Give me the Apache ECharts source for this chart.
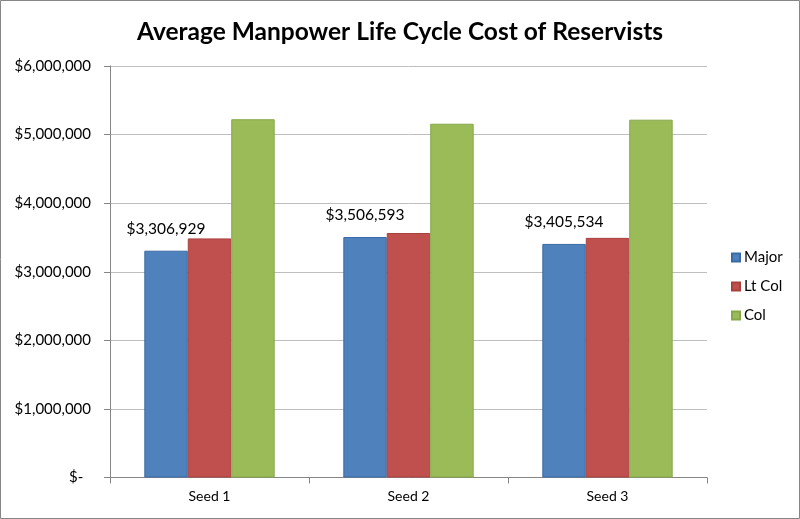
<!DOCTYPE html>
<html><head><meta charset="utf-8">
<script src="https://cdn.jsdelivr.net/npm/echarts@6/dist/echarts.min.js"></script>
<style>html,body{margin:0;padding:0;background:#fff}#c{width:800px;height:519px}</style>
</head><body><div id="c"></div>
<script>
var titleText = 'Average Manpower Life Cycle Cost of Reservists';
var categories = ['Seed 1', 'Seed 2', 'Seed 3'];
var seriesNames = ['Major', 'Lt Col', 'Col'];
var majorValues = [3306929, 3506593, 3405534];
var ltColValues = [3486000, 3565000, 3494000];
var colValues = [5224000, 5158000, 5217000];
var yTicks = [0, 1000000, 2000000, 3000000, 4000000, 5000000, 6000000];

var FONT = 'Lato';
function money(v){
  if (v === 0) return '$-  ';
  return '$' + Math.round(v).toString().replace(/\B(?=(\d{3})+(?!\d))/g, ',');
}
var colors = ['#4F81BD', '#C0504D', '#9BBB59'];
var borders = ['#3A6BA5', '#A9403D', '#86A84A'];
var vals = [majorValues, ltColValues, colValues];

var chart = echarts.init(document.getElementById('c'), null, {renderer:'canvas'});
chart.setOption({
  animation: false,
  backgroundColor: '#fff',
  textStyle: {fontFamily: FONT},
  title: {text: titleText, left: 'center', top: 15,
    textStyle: {fontFamily: FONT, fontSize: 24.5, fontWeight: 'bold', color: '#000'}},
  legend: {orient: 'vertical', left: 726, top: 245, itemGap: 14, itemWidth: 8, itemHeight: 8,
    icon: 'rect', data: seriesNames,
    textStyle: {fontFamily: FONT, fontSize: 15, color: '#000', padding: [0,0,0,-1]}},
  graphic: [{type: 'rect', shape: {x: 0.5, y: 0.5, width: 799, height: 518},
    style: {fill: 'none', stroke: '#868686', lineWidth: 1}, silent: true}],
  grid: {left: 110, right: 93, top: 66, bottom: 41.5},
  xAxis: {type: 'category', data: categories,
    axisLine: {lineStyle: {color: '#868686'}},
    axisTick: {show: true, length: 6, lineStyle: {color: '#868686'}},
    axisLabel: {fontFamily: FONT, fontSize: 14, color: '#000', margin: 12}},
  yAxis: {type: 'value', min: yTicks[0], max: yTicks[yTicks.length-1], interval: yTicks[1]-yTicks[0],
    axisLine: {show: true, lineStyle: {color: '#868686'}},
    axisTick: {show: true, length: 6, lineStyle: {color: '#868686'}},
    splitLine: {lineStyle: {color: '#BEBEBE'}},
    axisLabel: {fontFamily: FONT, fontSize: 15, color: '#000', margin: 19, formatter: money}},
  series: seriesNames.map(function(n, i){
    return {name: n, type: 'bar', data: vals[i], barGap: '0%', barCategoryGap: '34.5%',
      itemStyle: {color: colors[i], borderColor: borders[i], borderWidth: 1},
      label: i === 0 ? {show: true, position: 'top', distance: 14, formatter: function(p){return money(p.value);},
        fontFamily: FONT, fontSize: 15.5, color: '#000'} : {show: false}};
  })
});
</script></body></html>
